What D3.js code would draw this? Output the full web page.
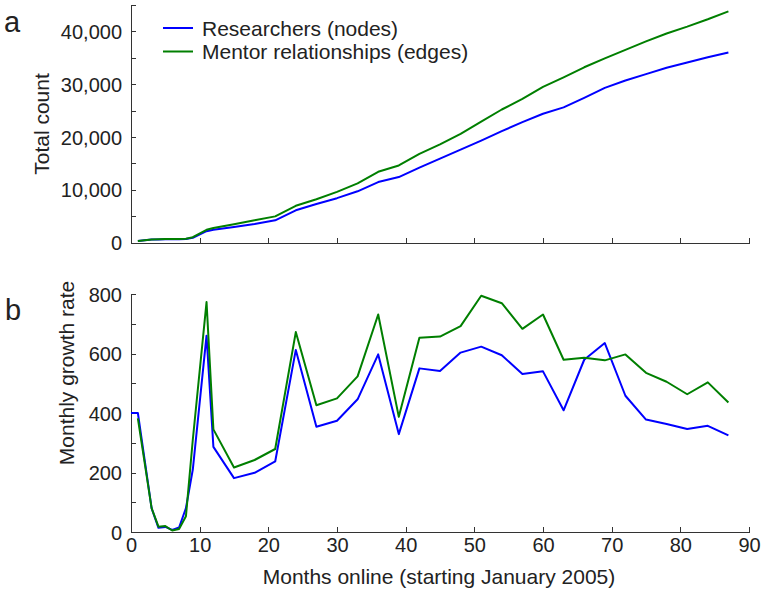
<!DOCTYPE html>
<html>
<head>
<meta charset="utf-8">
<script src="https://cdn.jsdelivr.net/npm/d3@7"></script>
<style>
  html, body { margin: 0; padding: 0; background: #fff; }
  svg { display: block; font-family: "Liberation Sans", Arial, Helvetica, sans-serif; }
  .axis path, .axis line { stroke: #333; stroke-width: 1; shape-rendering: crispEdges; }
  .axis text { fill: #222; font-size: 20px; }
</style>
</head>
<body>
<svg id="chart" width="764" height="589"></svg>
<script>
// ---- Data ----
const seriesNames = ["Researchers (nodes)", "Mentor relationships (edges)"];
const seriesColors = ["#0000ff", "#007f00"];

// Panel a: cumulative totals
const totalMonths = [1,3,4,5,6,7,8,9,11,12,15,18,21,24,27,30,33,36,39,42,45,48,51,54,57,60,63,66,69,72,75,78,81,84,87];
const totalNodes  = [280,550,580,600,610,620,680,900,2150,2400,2950,3500,4200,6100,7300,8400,9700,11450,12400,14200,15900,17600,19300,21100,22800,24400,25600,27400,29300,30700,31900,33100,34100,35100,36000];
const totalEdges  = [300,580,620,640,650,660,720,1000,2400,2750,3450,4200,4950,6950,8200,9600,11200,13400,14600,16800,18600,20600,22900,25200,27200,29500,31300,33200,34900,36500,38100,39600,40900,42300,43800];

// Panel b: monthly growth rate
const growthNodeMonths = [0,1,3,4,5,6,7,8,9,11,12,15,18,21,24,27,30,33,36,39,42,45,48,51,54,57,60,63,66,69,72,75,78,81,84,87];
const growthNodes      = [400,400,80,14,17,7,15,80,210,660,286,181,199,237,612,354,374,446,597,329,550,541,603,623,594,531,540,409,579,635,458,378,363,346,357,325];
const growthEdgeMonths = [1,3,4,5,6,7,8,9,11,12,15,18,21,24,27,30,33,36,39,42,45,48,51,54,57,60,63,66,69,72,75,78,81,84,87];
const growthEdges      = [382,80,18,20,5,10,53,310,773,345,217,242,279,672,426,449,523,731,387,653,657,692,794,769,683,731,579,586,577,597,535,505,463,503,435];

// Tick values
const xTicks = [0,10,20,30,40,50,60,70,80,90];
const totalTicks = [0,5000,10000,15000,20000,25000,30000,35000,40000,45000];
const totalLabeled = [0,10000,20000,30000,40000];
const growthTicks = [0,100,200,300,400,500,600,700,800];
const growthLabeled = [0,200,400,600,800];

// ---- Layout ----
const svg = d3.select("#chart");
const x = d3.scaleLinear().domain([0, 90]).range([131, 749]);
const yTop = d3.scaleLinear().domain([0, 45000]).range([242.5, 5]);
const yBot = d3.scaleLinear().domain([0, 800]).range([532, 294]);

const fmtComma = d3.format(",");

function drawPanel(y, ticks, labeled, fmt, showXLabels) {
  svg.append("g").attr("class", "axis")
    .attr("transform", `translate(0,${y.range()[0]})`)
    .call(d3.axisBottom(x).tickValues(xTicks).tickSizeInner(-5).tickSizeOuter(0).tickPadding(6)
      .tickFormat(d => showXLabels ? d : ""));
  const gy = svg.append("g").attr("class", "axis")
    .attr("transform", `translate(${x.range()[0]},0)`)
    .call(d3.axisLeft(y).tickValues(ticks).tickSizeInner(-5).tickSizeOuter(0).tickPadding(9)
      .tickFormat(d => labeled.includes(d) ? fmt(d) : ""));
  gy.selectAll("text").attr("dy", "0.36em");
}

drawPanel(yTop, totalTicks, totalLabeled, fmtComma, false);
drawPanel(yBot, growthTicks, growthLabeled, d => d, true);

// Lines
function drawLine(months, vals, y, color) {
  const data = months.map((m, i) => [m, vals[i]]);
  svg.append("path")
    .datum(data)
    .attr("fill", "none")
    .attr("stroke", color)
    .attr("stroke-width", 2)
    .attr("stroke-linejoin", "round")
    .attr("d", d3.line().x(d => x(d[0])).y(d => y(d[1])));
}
drawLine(totalMonths, totalNodes, yTop, seriesColors[0]);
drawLine(totalMonths, totalEdges, yTop, seriesColors[1]);
drawLine(growthNodeMonths, growthNodes, yBot, seriesColors[0]);
drawLine(growthEdgeMonths, growthEdges, yBot, seriesColors[1]);

// Legend
const legend = svg.append("g");
seriesNames.forEach((name, i) => {
  const yy = 28 + i * 23.5;
  legend.append("line").attr("x1", 163).attr("x2", 193).attr("y1", yy).attr("y2", yy)
    .attr("stroke", seriesColors[i]).attr("stroke-width", 2);
  legend.append("text").attr("x", 202).attr("y", yy).attr("dy", "0.36em")
    .attr("font-size", 21).attr("fill", "#222").text(name);
});

// Axis titles
svg.append("text").attr("transform", "translate(49,124) rotate(-90)")
  .attr("text-anchor", "middle").attr("font-size", 21).attr("fill", "#222").text("Total count");
svg.append("text").attr("transform", "translate(74,373) rotate(-90)")
  .attr("text-anchor", "middle").attr("font-size", 21).attr("fill", "#222").text("Monthly growth rate");
svg.append("text").attr("x", 439).attr("y", 584)
  .attr("text-anchor", "middle").attr("font-size", 21).attr("fill", "#222").text("Months online (starting January 2005)");

// Panel letters
svg.append("text").attr("x", 4).attr("y", 32).attr("font-size", 29).attr("fill", "#222").text("a");
svg.append("text").attr("x", 5).attr("y", 320).attr("font-size", 29).attr("fill", "#222").text("b");
</script>
</body>
</html>
